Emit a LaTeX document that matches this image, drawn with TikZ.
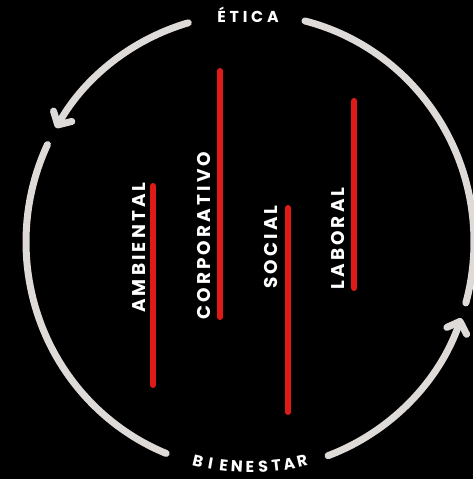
\documentclass[tikz,border=0pt]{standalone}
\usepackage{fontspec}
\setmainfont{Poppins}
\newfontfamily\ringfont[LetterSpace=24]{Poppins}
\newfontfamily\barfont[LetterSpace=17]{Poppins}
\usetikzlibrary{arrows.meta}

\definecolor{ringgray}{RGB}{221,218,216}
\definecolor{barred}{RGB}{224,26,22}

\begin{document}
\begin{tikzpicture}[
    x=0.02cm, y=0.02cm,
    ring/.style={draw=ringgray, line width=0.14cm, line cap=round},
    ringarrow/.style={ring, -{Straight Barb[length=0.2cm, width=0.42cm, round]}},
    bar/.style={draw=barred, line width=0.12cm, line cap=round},
    barlabel/.style={text=white, font=\barfont\bfseries\fontsize{10.5}{12}\selectfont, inner sep=0pt, rotate=90},
    ringlabel/.style={text=white, font=\ringfont\bfseries\fontsize{9}{11}\selectfont, inner sep=0pt}
]

    % Black background, also fixes the page size
    \fill[black] (0,0) rectangle (473,479);
    \useasboundingbox (0,0) rectangle (473,479);

    \coordinate (ctr) at (250,237);

    % Outer cycle: two arrows and two plain arcs
    \draw[ringarrow] ([shift={(106:224 and 228)}]ctr) arc[start angle=106, end angle=150, x radius=224, y radius=228];
    \draw[ring] ([shift={(154.7:224 and 228)}]ctr) arc[start angle=154.7, end angle=248, x radius=224, y radius=228];
    \draw[ringarrow] ([shift={(290.4:224 and 228)}]ctr) arc[start angle=290.4, end angle=340.5, x radius=224, y radius=228];
    \draw[ring] ([shift={(344.5:224 and 228)}]ctr) arc[start angle=344.5, end angle=435.8, x radius=224, y radius=228];

    % Labels on the cycle
    \node[ringlabel, anchor=base] (etica) at (248,456) {ÉTICA};
    \foreach \ch [count=\i, evaluate=\i as \a using {270+(\i-5)*3.35}] in {B,I,E,N,E,S,T,A,R}
        \node[ringlabel, rotate=\a+90] (bien\i) at ([shift={(\a:225)}]ctr) {\ch};

    % Red bars
    \draw[bar] (153,293) -- (153,94);
    \draw[bar] (220,408) -- (220,162);
    \draw[bar] (288,271) -- (288,67);
    \draw[bar] (354,378) -- (354,191);

    % Bar labels
    \node[barlabel, anchor=base east] (ambiental) at (145,297) {AMBIENTAL};
    \node[barlabel, anchor=base west] (corporativo) at (210,159) {CORPORATIVO};
    \node[barlabel, anchor=base east] (social) at (277,274) {SOCIAL};
    \node[barlabel, anchor=base west] (laboral) at (344,189) {LABORAL};

\end{tikzpicture}
\end{document}
